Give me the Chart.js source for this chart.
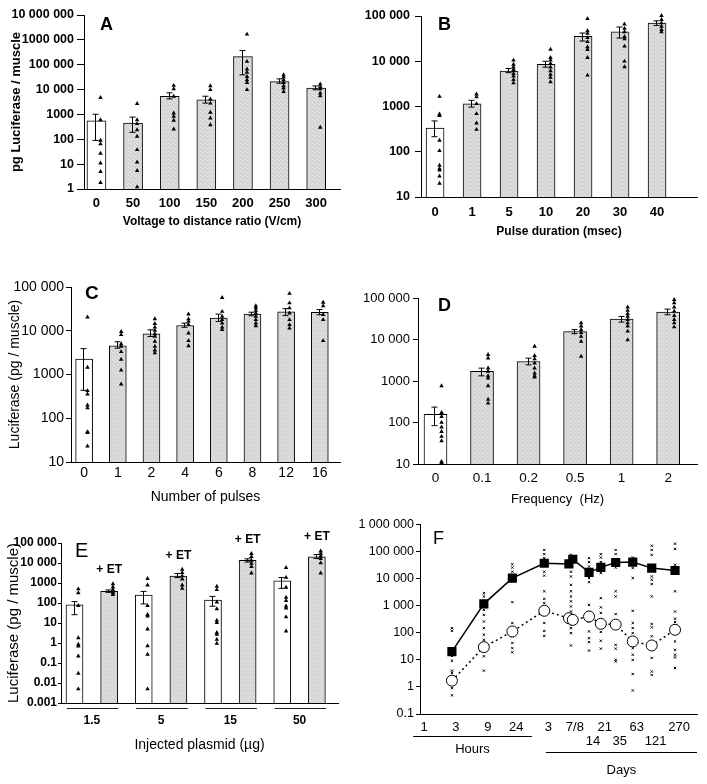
<!DOCTYPE html>
<html>
<head>
<meta charset="utf-8">
<script src="https://cdn.jsdelivr.net/npm/chart.js@4.4.0/dist/chart.umd.min.js"></script>
<style>
  body { margin: 0; background: #fff; width: 707px; height: 784px; position: relative; overflow: hidden; }
  canvas { position: absolute; }
  .letter { position: absolute; font-family: "Liberation Sans", Arial, sans-serif; color: #000; line-height: 1; }
</style>
</head>
<body>
<canvas id="chartA" width="345" height="235" style="left:0;top:0"></canvas>
<canvas id="chartB" width="362" height="245" style="left:345px;top:0"></canvas>
<canvas id="chartC" width="345" height="245" style="left:0;top:265px"></canvas>
<canvas id="chartD" width="362" height="245" style="left:345px;top:265px"></canvas>
<canvas id="chartE" width="345" height="259" style="left:0;top:525px"></canvas>
<canvas id="chartF" width="362" height="269" style="left:345px;top:515px"></canvas>

<div class="letter" style="left:100px;top:15px;font-size:18px;font-weight:bold">A</div>
<div class="letter" style="left:438px;top:15px;font-size:18px;font-weight:bold">B</div>
<div class="letter" style="left:85px;top:283px;font-size:19px;font-weight:bold">C</div>
<div class="letter" style="left:438px;top:296px;font-size:18px;font-weight:bold">D</div>
<div class="letter" style="left:75px;top:540px;font-size:20px">E</div>
<div class="letter" style="left:433px;top:529px;font-size:18px">F</div>

<script>
// ---- A : voltage to distance ratio
const labelsA = ['0', '50', '100', '150', '200', '250', '300'];
const meansA = [550, 450, 5400, 3900, 213000, 21000, 11400];
const lowA = [90, 190, 4200, 2850, 39000, 18000, 9800];
const highA = [1020, 780, 7400, 5400, 370000, 27000, 14000];
const pointsA = [
  [4700, 600, 90, 65, 27, 11, 5, 1.8],
  [2700, 600, 420, 240, 130, 38, 12, 5.5, 1.2],
  [14500, 10700, 5300, 1130, 830, 575, 257],
  [14000, 9800, 4100, 2800, 1200, 710, 380],
  [1670000, 134000, 66000, 49000, 33000, 24500, 19000, 9800],
  [39000, 31500, 24500, 19000, 14000, 11400, 8300],
  [16500, 13000, 10500, 7200, 5600, 300]
];
const yTicksA = [1, 10, 100, 1000, 10000, 100000, 1000000, 10000000];
const yLabelsA = ['1', '10', '100', '1000', '10 000', '100 000', '1000 000', '10 000 000'];

// ---- B : pulse duration
const labelsB = ['0', '1', '5', '10', '20', '30', '40'];
const meansB = [335, 1150, 6100, 8500, 35500, 44500, 70000];
const lowB = [215, 970, 5600, 7400, 28000, 32500, 62000];
const highB = [480, 1370, 6900, 10000, 42000, 57000, 78000];
const pointsB = [
  [1660, 680, 630, 178, 105, 50, 42, 39, 29, 20],
  [1870, 1620, 1150, 690, 430, 310],
  [10500, 8500, 7400, 6500, 6100, 5300, 4700, 3900, 3300],
  [18300, 12000, 10500, 8900, 7400, 6100, 5100, 4400, 3500],
  [87000, 47000, 41000, 33000, 27000, 20600, 18000, 12000, 4900],
  [145000, 66000, 53000, 44500, 35000, 31000, 21400, 10000, 7500],
  [102000, 83000, 70000, 59000, 50000, 44500]
];
const yTicks5 = [10, 100, 1000, 10000, 100000];
const yLabels5 = ['10', '100', '1000', '10 000', '100 000'];

// ---- C : number of pulses
const labelsC = ['0', '1', '2', '4', '6', '8', '12', '16'];
const meansC = [2240, 4500, 8500, 13200, 19500, 24000, 27000, 26500];
const lowC = [435, 4000, 7400, 12000, 16300, 22000, 22200, 23200];
const highC = [3900, 5600, 10500, 14900, 24000, 26500, 32000, 30500];
const pointsC = [
  [20500, 1450, 425, 355, 200, 173, 49, 47, 23],
  [9500, 8100, 5000, 4400, 3300, 2220, 1260, 600],
  [18600, 14500, 12000, 10200, 8500, 7400, 5700, 4400, 3600, 3100],
  [24000, 18500, 16300, 13700, 8800, 5900, 4500],
  [57000, 27500, 21200, 17800, 14900, 12000, 10500],
  [37000, 33000, 29000, 25300, 21200, 17800, 14900, 12900],
  [71000, 43000, 33000, 25300, 17800, 13700, 11500],
  [44500, 37000, 23200, 17800, 5900]
];

// ---- D : frequency
const labelsD = ['0', '0.1', '0.2', '0.5', '1', '2'];
const meansD = [158, 1700, 2950, 15500, 31000, 46000];
const lowD = [84, 1330, 2450, 13800, 26300, 39500];
const highD = [235, 2040, 3560, 17300, 36000, 54000];
const pointsD = [
  [760, 173, 138, 100, 77, 60, 46, 36, 11.5, 10.8],
  [4300, 3560, 2040, 1700, 1330, 1170, 760, 360, 290],
  [6800, 4050, 3400, 2700, 2040, 1550, 1330, 1240],
  [25000, 21000, 17300, 14500, 11900, 9000, 3900],
  [60000, 50000, 41600, 36000, 30000, 25000, 21000, 15800, 9800],
  [91000, 76000, 60000, 48000, 37500, 30000, 25000, 20000]
];

// ---- E : injected plasmid, without / with electrotransfer
const groupsE = ['1.5', '5', '15', '50'];
const withET = [false, true, false, true, false, true, false, true];
const meansE = [80, 380, 250, 2240, 140, 13500, 1290, 20500];
const lowE = [26, 340, 90, 1870, 69, 11200, 540, 17000];
const highE = [117, 450, 380, 2950, 214, 16200, 1870, 26500];
const pointsE = [
  [500, 320, 74, 1.8, 0.85, 0.7, 0.22, 0.03, 0.005],
  [900, 620, 450, 380, 320, 260],
  [1650, 780, 74, 26, 22, 4.9, 0.71, 0.27, 0.005],
  [4800, 3300, 2240, 1550, 780, 540],
  [675, 460, 110, 51, 13.5, 10.5, 3.3, 2.7, 1.5, 0.95],
  [29500, 20500, 13500, 9600, 6600, 3100],
  [5900, 1870, 600, 190, 132, 69, 55, 20, 3.9],
  [39000, 29500, 22000, 16200, 10200, 3100]
];
const yTicksE = [0.001, 0.01, 0.1, 1, 10, 100, 1000, 10000, 100000];
const yLabelsE = ['0.001', '0.01', '0.1', '1', '10', '100', '1000', '10 000', '100 000'];

// ---- F : time course (hours)
const hoursF = [3, 9, 24, 72, 168, 192, 336, 504, 840, 1512, 2904, 6480];
const withEtF = [20, 1170, 10500, 37000, 35000, 52000, 17000, 26000, 39500, 41000, 24500, 20000];
const withoutEtF = [1.7, 29.5, 112, 650, 345, 300, 400, 215, 200, 48, 34, 129];
const dotHoursF = [3, 9, 24, 72, 180, 336, 504, 840, 1512, 2904, 6480];
const dotsF = [
  [148, 118, 14, 9.3, 4, 3.3, 0.9, 0.49],
  [2900, 2200, 1500, 1070, 700, 460, 260, 148, 85, 55, 13.5, 4],
  [34000, 25700, 18000, 7900, 1350, 230, 74, 42, 27, 19],
  [115000, 80000, 57000, 18000, 13000, 3400, 1800, 1250, 710, 490, 230, 118, 77],
  [76000, 50000, 28000, 18000, 12000, 5900, 3400, 2200, 1450, 940, 610, 200, 148, 97, 34],
  [57000, 41000, 28000, 10500, 7400, 1070, 260, 112, 63, 45, 22],
  [80000, 60000, 41000, 16000, 1900, 870, 540, 300, 174, 107, 51, 26],
  [115000, 80000, 53000, 25700, 3400, 2200, 490, 36, 26, 10, 8.7],
  [60000, 37000, 24500, 10500, 650, 230, 148, 97, 60, 27, 15.5, 10, 3, 0.74],
  [165000, 115000, 76000, 12000, 9100, 6300, 2200, 210, 158, 74, 11.8, 3.7, 2.8],
  [195000, 126000, 32500, 3400, 610, 330, 250, 48, 23.5, 15.5, 12.3, 5]
];
const tickHoursF = [1, 3, 9, 24, 72, 180, 336, 504, 840, 1512, 2904, 6480];
const tickLabelsF = ['1', '3', '9', '24', '3', '7/8', ['', '14'], '21', ['', '35'], '63', ['', '121'], '270'];
const yTicksF = [0.1, 1, 10, 100, 1000, 10000, 100000, 1000000];
const yLabelsF = ['0.1', '1', '10', '100', '1 000', '10 000', '100 000', '1 000 000'];

const FAMILY = '"Liberation Sans", Arial, sans-serif';
Chart.defaults.font.family = FAMILY;
Chart.defaults.color = '#000';

// stippled light grey like the printed bars
function makeStipple() {
  const c = document.createElement('canvas');
  c.width = 4; c.height = 4;
  const g = c.getContext('2d');
  g.fillStyle = '#dbdbdb'; g.fillRect(0, 0, 4, 4);
  g.fillStyle = '#cbcbcb'; g.fillRect(0, 0, 1, 1); g.fillRect(2, 1, 1, 1); g.fillRect(1, 2, 1, 1); g.fillRect(3, 3, 1, 1);
  g.fillStyle = '#e6e6e6'; g.fillRect(2, 0, 1, 1); g.fillRect(0, 3, 1, 1);
  return g.createPattern(c, 'repeat');
}
const GRAY = makeStipple();

function font(size, bold) {
  return { family: FAMILY, size: size, weight: bold ? 'bold' : 'normal', lineHeight: 1.2 };
}

// mean +/- error drawn on top of the bars
function errorBars(low, high) {
  return {
    id: 'errorBars',
    afterDatasetDraw(chart, args) {
      if (args.index !== 0) return;
      const { ctx, scales: { x, y } } = chart;
      ctx.save();
      ctx.strokeStyle = '#000';
      ctx.lineWidth = 1;
      ctx.beginPath();
      low.forEach((lo, i) => {
        const px = Math.round(x.getPixelForValue(i)) - 0.5;
        const y1 = y.getPixelForValue(lo);
        const y2 = y.getPixelForValue(high[i]);
        ctx.moveTo(px, y1); ctx.lineTo(px, y2);
        ctx.moveTo(px - 3, y1); ctx.lineTo(px + 3, y1);
        ctx.moveTo(px - 3, y2); ctx.lineTo(px + 3, y2);
      });
      ctx.stroke();
      ctx.restore();
    }
  };
}

function barPanel(id, p) {
  const bars = p.means.map((v, i) => ({ x: i, y: v }));
  const tris = [];
  p.points.forEach((arr, i) => arr.forEach(v => tris.push({ x: i + p.triShift, y: v })));
  const yMin = p.yTicks[0], yMax = p.yTicks[p.yTicks.length - 1];
  return new Chart(document.getElementById(id).getContext('2d'), {
    type: 'bar',
    data: {
      datasets: [
        {
          type: 'bar', data: bars, backgroundColor: p.fills, borderColor: '#000',
          borderWidth: 1, barThickness: p.barW, order: 2
        },
        {
          type: 'scatter', data: tris, pointStyle: 'triangle', pointRadius: 2.6,
          backgroundColor: '#000', borderColor: '#000', borderWidth: 0, order: 1, clip: false
        }
      ]
    },
    options: {
      responsive: false,
      devicePixelRatio: 1,
      animation: false,
      events: [],
      layout: { padding: { top: p.padTop, right: p.padRight, left: 0, bottom: 0 } },
      plugins: { legend: { display: false }, tooltip: { enabled: false } },
      scales: {
        x: {
          type: 'linear', min: p.xMin, max: p.xMax, offset: false,
          afterBuildTicks: s => { s.ticks = p.tickPos.map(v => ({ value: v })); },
          afterFit: s => { s.height = p.xH; },
          grid: { display: false, drawTicks: false, offset: false },
          border: { color: '#000', width: 1 },
          ticks: {
            autoSkip: false, maxRotation: 0, padding: p.xPad, color: '#000', font: p.xFont,
            callback: (v, i) => p.tickLabels[i]
          },
          title: {
            display: true, text: p.xTitle, color: '#000', font: p.xTitleFont,
            padding: { top: 0, bottom: p.xTitlePad }
          }
        },
        y: {
          type: 'logarithmic', min: yMin, max: yMax,
          afterBuildTicks: s => { s.ticks = p.yTicks.map(v => ({ value: v })); },
          afterFit: s => { s.width = p.yW; },
          grid: { drawOnChartArea: false, drawTicks: true, tickLength: p.tickLen, color: '#000' },
          border: { color: '#000', width: 1 },
          ticks: { padding: p.yPad, color: '#000', font: p.yFont, callback: (v, i) => p.yLabels[i] },
          title: p.yTitle
            ? { display: true, text: p.yTitle, color: '#000', font: p.yTitleFont, padding: { top: p.yTitlePad, bottom: 0 } }
            : { display: false }
        }
      }
    },
    plugins: [errorBars(p.low, p.high)].concat(p.extra || [])
  });
}

const firstWhite = n => Array.from({ length: n }, (_, i) => (i === 0 ? '#fff' : GRAY));

barPanel('chartA', {
  means: meansA, low: lowA, high: highA, points: pointsA, fills: firstWhite(labelsA.length),
  tickPos: labelsA.map((_, i) => i), tickLabels: labelsA, yTicks: yTicksA, yLabels: yLabelsA,
  xMin: -0.34, xMax: 6.65, padTop: 15, padRight: 5, xH: 46, yW: 84, barW: 19, triShift: 0.11,
  xPad: 7, xFont: font(13, true), xTitle: 'Voltage to distance ratio (V/cm)', xTitleFont: font(12, true), xTitlePad: 6,
  tickLen: 7, yPad: 3, yFont: font(12.5, true),
  yTitle: 'pg Luciferase / muscle', yTitleFont: font(13, true), yTitlePad: 9
});

barPanel('chartB', {
  means: meansB, low: lowB, high: highB, points: pointsB, fills: firstWhite(labelsB.length),
  tickPos: labelsB.map((_, i) => i), tickLabels: labelsB, yTicks: yTicks5, yLabels: yLabels5,
  xMin: -0.38, xMax: 7.08, padTop: 16, padRight: 10, xH: 48, yW: 76, barW: 18, triShift: 0.12,
  xPad: 8, xFont: font(13, true), xTitle: 'Pulse duration (msec)', xTitleFont: font(12, true), xTitlePad: 6,
  tickLen: 6, yPad: 5, yFont: font(12.5, true)
});

barPanel('chartC', {
  means: meansC, low: lowC, high: highC, points: pointsC, fills: firstWhite(labelsC.length),
  tickPos: labelsC.map((_, i) => i), tickLabels: labelsC, yTicks: yTicks5, yLabels: yLabels5,
  xMin: -0.39, xMax: 7.6, padTop: 22, padRight: 5, xH: 48, yW: 71, barW: 17, triShift: 0.1,
  xPad: 3, xFont: font(14, false), xTitle: 'Number of pulses', xTitleFont: font(14, false), xTitlePad: 4,
  tickLen: 5, yPad: 2, yFont: font(14, false),
  yTitle: 'Luciferase (pg / muscle)', yTitleFont: font(14, false), yTitlePad: 7
});

barPanel('chartD', {
  means: meansD, low: lowD, high: highD, points: pointsD, fills: firstWhite(labelsD.length),
  tickPos: labelsD.map((_, i) => i), tickLabels: labelsD, yTicks: yTicks5, yLabels: yLabels5,
  xMin: -0.376, xMax: 5.62, padTop: 33, padRight: 10, xH: 46, yW: 73, barW: 23, triShift: 0.13,
  xPad: 6, xFont: font(13.5, false), xTitle: 'Frequency  (Hz)', xTitleFont: font(13, false), xTitlePad: 3,
  tickLen: 5, yPad: 3, yFont: font(13, false)
});

// E: "+ ET" tags and underlines grouping each pair of bars
const groupDecor = {
  id: 'groupDecor',
  afterDraw(chart) {
    const { ctx, scales: { x, y }, chartArea } = chart;
    ctx.save();
    ctx.strokeStyle = '#222';
    ctx.lineWidth = 1;
    ctx.beginPath();
    groupsE.forEach((g, k) => {
      const i = 2 * k;
      const yy = Math.round(chartArea.bottom + 4.5) + 0.5;
      ctx.moveTo(x.getPixelForValue(i - 0.22), yy);
      ctx.lineTo(x.getPixelForValue(i + 1.27), yy);
    });
    ctx.stroke();
    ctx.fillStyle = '#000';
    ctx.font = 'bold 12px ' + FAMILY;
    ctx.textAlign = 'center';
    ctx.textBaseline = 'middle';
    withET.forEach((et, i) => {
      if (!et) return;
      const top = Math.max(...pointsE[i]);
      ctx.fillText('+ ET', x.getPixelForValue(i), y.getPixelForValue(top) - 14);
    });
    ctx.restore();
  }
};

barPanel('chartE', {
  means: meansE, low: lowE, high: highE, points: pointsE, fills: withET.map(et => (et ? GRAY : '#fff')),
  tickPos: groupsE.map((_, k) => 2 * k + 0.5), tickLabels: groupsE, yTicks: yTicksE, yLabels: yLabelsE,
  xMin: -0.39, xMax: 7.61, padTop: 18, padRight: 7, xH: 81, yW: 61, barW: 17, triShift: 0.11,
  xPad: 10, xFont: font(12, true), xTitle: 'Injected plasmid (µg)', xTitleFont: font(14, false), xTitlePad: 30,
  tickLen: 3, yPad: 1, yFont: font(12, true),
  yTitle: 'Luciferase (pg / muscle)', yTitleFont: font(15, false), yTitlePad: 5,
  extra: [groupDecor]
});

// F: time course
const timeDecor = {
  id: 'timeDecor',
  afterDraw(chart) {
    const { ctx, scales: { x }, chartArea } = chart;
    const b = chartArea.bottom;
    ctx.save();
    ctx.strokeStyle = '#000';
    ctx.lineWidth = 1;
    ctx.beginPath();
    ctx.moveTo(x.getPixelForValue(0.79), Math.round(b + 21.7) + 0.5);
    ctx.lineTo(x.getPixelForValue(47), Math.round(b + 21.7) + 0.5);
    ctx.moveTo(x.getPixelForValue(76), Math.round(b + 38) + 0.5);
    ctx.lineTo(x.getPixelForValue(13800), Math.round(b + 38) + 0.5);
    ctx.stroke();
    ctx.fillStyle = '#000';
    ctx.font = '13px ' + FAMILY;
    ctx.textAlign = 'center';
    ctx.textBaseline = 'middle';
    ctx.fillText('Hours', x.getPixelForValue(Math.sqrt(0.79 * 47)), b + 35);
    ctx.fillText('Days', x.getPixelForValue(Math.sqrt(76 * 13800)), b + 56);
    ctx.restore();
  }
};

const dotData = [];
dotsF.forEach((arr, i) => arr.forEach(v => dotData.push({ x: dotHoursF[i], y: v })));

new Chart(document.getElementById('chartF').getContext('2d'), {
  type: 'line',
  data: {
    datasets: [
      {
        type: 'scatter', data: dotData, pointStyle: 'crossRot', pointRadius: 1.6,
        borderColor: '#000', borderWidth: 1, order: 3, clip: false
      },
      {
        data: hoursF.map((h, i) => ({ x: h, y: withoutEtF[i] })),
        borderColor: '#000', borderWidth: 1.5, borderDash: [2, 3],
        pointStyle: 'circle', pointRadius: 5.5, pointBackgroundColor: '#fff',
        pointBorderColor: '#000', pointBorderWidth: 1, order: 2
      },
      {
        data: hoursF.map((h, i) => ({ x: h, y: withEtF[i] })),
        borderColor: '#000', borderWidth: 1.5,
        pointStyle: 'rect', pointRadius: 6.5, pointBackgroundColor: '#000',
        pointBorderColor: '#000', pointBorderWidth: 0, order: 1
      }
    ]
  },
  options: {
    responsive: false,
    devicePixelRatio: 1,
    animation: false,
    events: [],
    layout: { padding: { top: 9, right: 10, left: 0, bottom: 0 } },
    plugins: { legend: { display: false }, tooltip: { enabled: false } },
    scales: {
      x: {
        type: 'logarithmic', min: 1, max: 13800,
        afterBuildTicks: s => { s.ticks = tickHoursF.map(v => ({ value: v })); },
        afterFit: s => { s.height = 70; },
        grid: { display: false, drawTicks: false },
        border: { color: '#000', width: 1 },
        ticks: {
          autoSkip: false, maxRotation: 0, padding: 6, labelOffset: 4, color: '#000',
          font: { family: FAMILY, size: 13, lineHeight: 1.12 },
          callback: (v, i) => tickLabelsF[i]
        }
      },
      y: {
        type: 'logarithmic', min: 0.1, max: 1000000,
        afterBuildTicks: s => { s.ticks = yTicksF.map(v => ({ value: v })); },
        afterFit: s => { s.width = 75; },
        grid: { drawOnChartArea: false, drawTicks: true, tickLength: 4, color: '#000' },
        border: { color: '#000', width: 1 },
        ticks: { padding: 2, color: '#000', font: font(12.5, false), callback: (v, i) => yLabelsF[i] }
      }
    }
  },
  plugins: [timeDecor]
});
</script>
</body>
</html>
